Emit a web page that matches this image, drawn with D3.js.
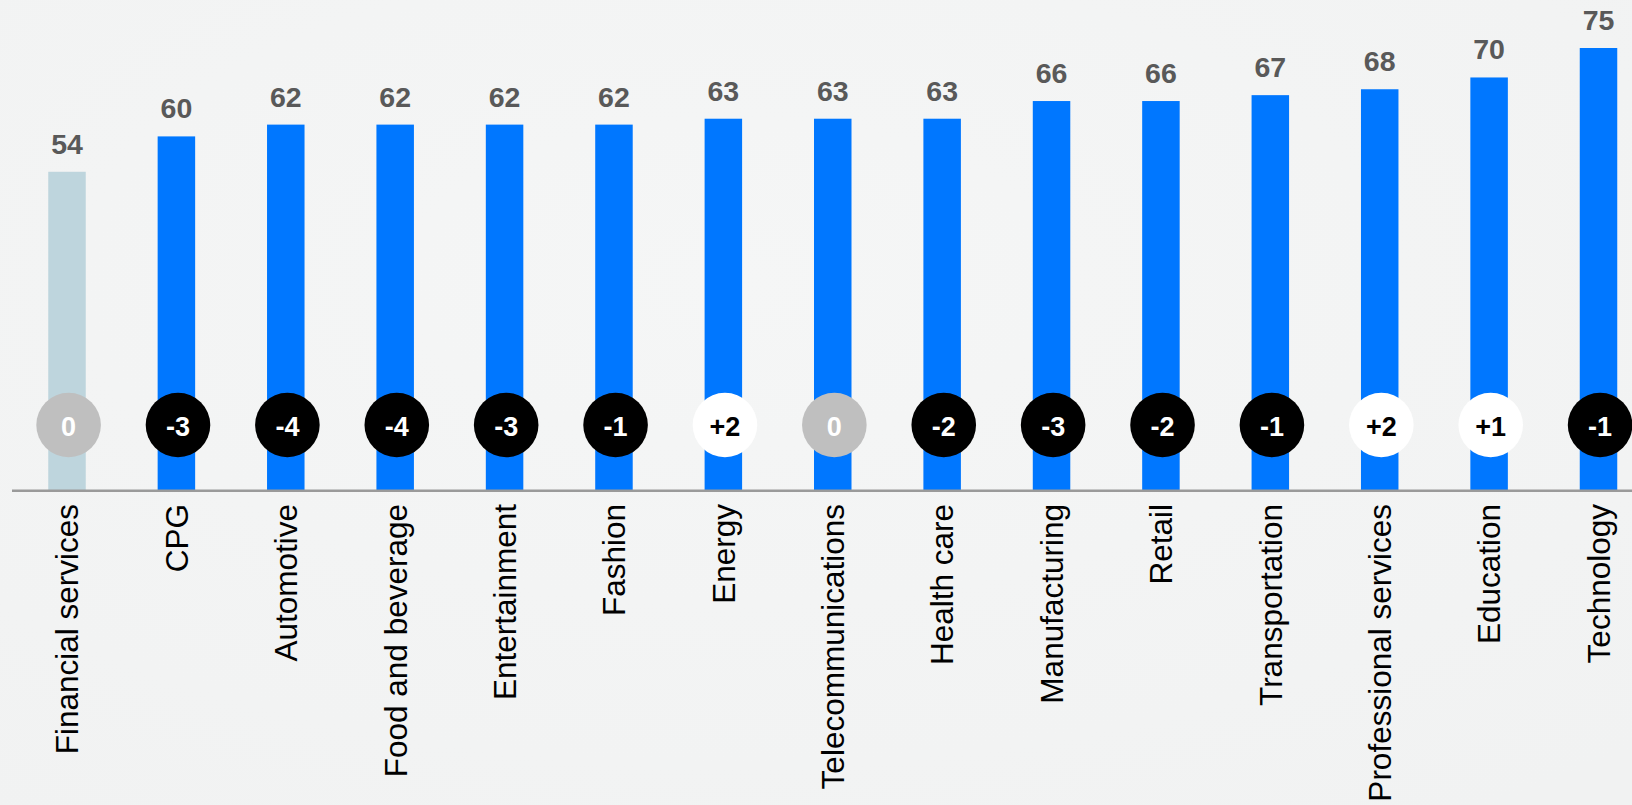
<!DOCTYPE html>
<html>
<head>
<meta charset="utf-8">
<script src="https://cdn.jsdelivr.net/npm/d3@7"></script>
<style>
  html, body { margin: 0; padding: 0; background: #f3f4f4; }
  svg { display: block; }
</style>
</head>
<body>
<svg id="chart" width="1632" height="805"></svg>
<script>
const categories = ["Financial services", "CPG", "Automotive", "Food and beverage", "Entertainment", "Fashion", "Energy", "Telecommunications", "Health care", "Manufacturing", "Retail", "Transportation", "Professional services", "Education", "Technology"];
const scores = [54, 60, 62, 62, 62, 62, 63, 63, 63, 66, 66, 67, 68, 70, 75];
const changes = [0, -3, -4, -4, -3, -1, 2, 0, -2, -3, -2, -1, 2, 1, -1];
const highlight = ["Financial services"];

const W = 1632, H = 805;
const svg = d3.select("#chart");

// background with subtle shading
const defs = svg.append("defs");
const rg = defs.append("radialGradient").attr("id", "bg").attr("cx", "0.45").attr("cy", "0.35").attr("r", "0.8");
rg.append("stop").attr("offset", "0").attr("stop-color", "#f5f6f6");
rg.append("stop").attr("offset", "1").attr("stop-color", "#f1f2f2");
svg.append("rect").attr("width", W).attr("height", H).attr("fill", "url(#bg)");

const x = d3.scalePoint().domain(categories).range([67, 1598.5]);
const y = d3.scaleLinear().domain([0, 75]).range([490, 48]);
const barW = 37.5;

const data = categories.map((c, i) => ({ cat: c, v: scores[i], ch: changes[i] }));

// bars
svg.append("g").selectAll("rect").data(data).join("rect")
  .attr("x", d => x(d.cat) - barW / 2)
  .attr("width", barW)
  .attr("y", d => y(d.v))
  .attr("height", d => y(0) - y(d.v))
  .attr("fill", d => highlight.includes(d.cat) ? "#bed5dd" : "#0077ff");

// value labels
svg.append("g").selectAll("text").data(data).join("text")
  .attr("x", d => x(d.cat))
  .attr("y", d => y(d.v) - 18)
  .attr("text-anchor", "middle")
  .attr("font-family", "'Liberation Sans', Arial, sans-serif")
  .attr("font-weight", "bold")
  .attr("font-size", 28.5)
  .attr("fill", "#595959")
  .text(d => d.v);

// baseline
svg.append("line")
  .attr("x1", 12).attr("x2", W)
  .attr("y1", 490.8).attr("y2", 490.8)
  .attr("stroke", "#9a9a9a").attr("stroke-width", 2.5);

// change badges
const cy = 425;
const badges = svg.append("g").selectAll("g").data(data).join("g")
  .attr("transform", d => `translate(${x(d.cat) + 1.6},${cy})`);
badges.append("circle")
  .attr("r", 32.3)
  .attr("fill", d => d.ch > 0 ? "#ffffff" : d.ch < 0 ? "#000000" : "#bfbfbf");
badges.append("text")
  .attr("text-anchor", "middle")
  .attr("dy", "0.42em")
  .attr("font-family", "'Liberation Sans', Arial, sans-serif")
  .attr("font-weight", "bold")
  .attr("font-size", 27)
  .attr("fill", d => d.ch > 0 ? "#000000" : "#ffffff")
  .text(d => d.ch > 0 ? "+" + d.ch : String(d.ch));

// category labels (rotated)
svg.append("g").selectAll("text").data(data).join("text")
  .attr("transform", d => `translate(${x(d.cat)},504) rotate(-90)`)
  .attr("text-anchor", "end")
  .attr("dy", "0.36em")
  .attr("font-family", "'Liberation Sans', Arial, sans-serif")
  .attr("font-size", 31.5)
  .attr("fill", "#000000")
  .text(d => d.cat);
</script>
</body>
</html>
